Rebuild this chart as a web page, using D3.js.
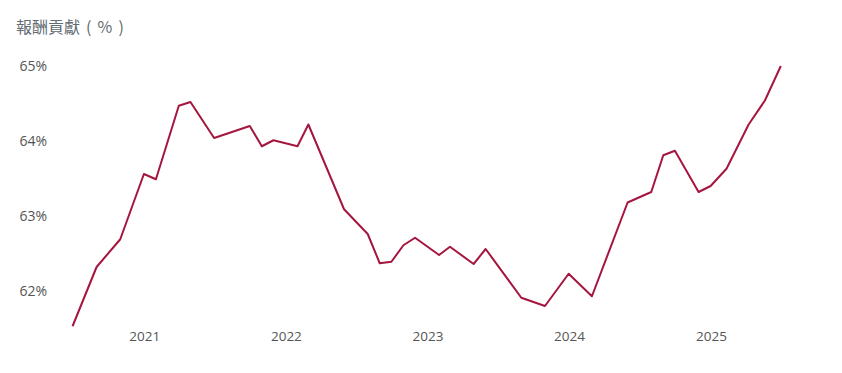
<!DOCTYPE html>
<html>
<head>
<meta charset="utf-8">
<script src="https://cdn.jsdelivr.net/npm/d3@7"></script>
<style>
  body { margin: 0; background: #fff; }
  svg text { font-family: "Open Sans", "Noto Sans", sans-serif; }
  .title { font-family: "Noto Sans CJK TC", sans-serif; white-space: pre; word-spacing: 2.5px; }
</style>
</head>
<body>
<svg id="chart"></svg>
<script>
// data
const dates = [
  "2020-06-30", "2020-08-31", "2020-10-31", "2020-12-31",
  "2021-01-31", "2021-03-31", "2021-04-30", "2021-06-30",
  "2021-09-30", "2021-10-31", "2021-11-30", "2022-01-31",
  "2022-02-28", "2022-05-31", "2022-07-31", "2022-08-31",
  "2022-09-30", "2022-10-31", "2022-11-30", "2023-01-31",
  "2023-02-28", "2023-04-30", "2023-05-31", "2023-08-31",
  "2023-10-31", "2023-12-31", "2024-02-29", "2024-05-31",
  "2024-07-31", "2024-08-31", "2024-09-30", "2024-11-30",
  "2024-12-31", "2025-02-10", "2025-04-08", "2025-05-20",
  "2025-06-30"
];
const values = [
  61.53, 62.32, 62.69, 63.56,
  63.49, 64.47, 64.52, 64.04,
  64.20, 63.93, 64.01, 63.93,
  64.22, 63.09, 62.76, 62.37,
  62.39, 62.61, 62.71, 62.48,
  62.59, 62.36, 62.56, 61.91,
  61.80, 62.23, 61.93, 63.18,
  63.32, 63.81, 63.87, 63.32,
  63.40, 63.63, 64.22, 64.54,
  65.00
];
const yTicks = [62, 63, 64, 65];
const xTicks = ["2021-01-01", "2022-01-01", "2023-01-01", "2024-01-01", "2025-01-01"];
const title = "報酬貢獻 ( % )";

const width = 842, height = 373;
const parse = d3.timeParse("%Y-%m-%d");
const data = dates.map((d, i) => [parse(d), values[i]]);

const svg = d3.select("#chart").attr("width", width).attr("height", height);

const x = d3.scaleTime()
  .domain([parse("2021-01-01"), parse("2025-01-01")])
  .range([144.3, 711]);
const y = d3.scaleLinear()
  .domain([62, 65])
  .range([291, 66]);

svg.append("text")
  .attr("class", "title")
  .attr("x", 16)
  .attr("y", 33)
  .attr("font-size", 16)
  .attr("fill", "#646b72")
  .text(title);

svg.append("g")
  .attr("transform", `translate(47,0)`)
  .call(d3.axisLeft(y).tickValues(yTicks).tickSize(0).tickPadding(0).tickFormat(d => `${d}%`))
  .call(g => g.select(".domain").remove())
  .call(g => g.selectAll(".tick text")
    .attr("font-size", 14)
    .attr("fill", "#555")
    .attr("font-family", "Open Sans, sans-serif"));

svg.append("g")
  .attr("transform", `translate(0,331)`)
  .call(d3.axisBottom(x).tickValues(xTicks.map(parse)).tickSize(0).tickPadding(0).tickFormat(d3.timeFormat("%Y")))
  .call(g => g.select(".domain").remove())
  .call(g => g.selectAll(".tick text")
    .attr("font-size", 13.5)
    .attr("fill", "#555")
    .attr("font-family", "Open Sans, sans-serif"));

const line = d3.line()
  .x(d => x(d[0]))
  .y(d => y(d[1]));

svg.append("path")
  .datum(data)
  .attr("fill", "none")
  .attr("stroke", "#a5163f")
  .attr("stroke-width", 2)
  .attr("stroke-linejoin", "round")
  .attr("d", line);
</script>
</body>
</html>
